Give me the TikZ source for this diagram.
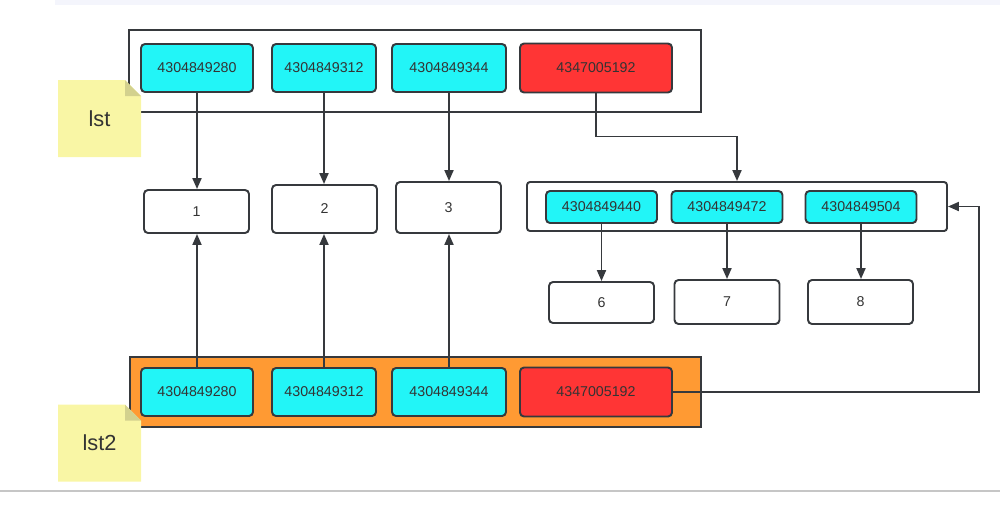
\documentclass[tikz,border=0pt]{standalone}
\usepackage{fontspec}
\setsansfont{Liberation Sans}
\usetikzlibrary{arrows.meta,fit}

\definecolor{edge}{HTML}{36393D}
\definecolor{txt}{HTML}{333333}
\definecolor{cellcyan}{HTML}{22F5F7}
\definecolor{cellred}{HTML}{FF3535}
\definecolor{boxorange}{HTML}{FF9A33}
\definecolor{notey}{HTML}{F9F6A5}
\definecolor{fold}{HTML}{D3D18E}
\definecolor{topband}{HTML}{F4F5FC}

\def\ux{0.02cm}

\begin{document}
\begin{tikzpicture}[x=\ux,y=-\ux, font=\sffamily, line width=1.1pt]
		\tikzset{
			cell/.style={draw=edge, fill=#1, rounded corners=0.8mm, inner sep=0pt, text=txt,
				font=\sffamily\fontsize{8.1}{10}\selectfont},
			ptr/.style={cell=cellcyan, minimum height=48*\ux},
			ptrred/.style={cell=cellred, minimum height=49*\ux, minimum width=152*\ux},
			val/.style={cell=white, minimum width=105*\ux},
			frame/.style={draw=edge, inner sep=0pt, fit={#1}},
			note/.style={minimum width=83*\ux, minimum height=77*\ux, text=txt,
				font=\sffamily\fontsize{12.4}{14}\selectfont,
				path picture={
					\fill[notey] (path picture bounding box.south west) |- ([xshift=-16*\ux]path picture bounding box.north east)
						-- ([yshift=-16*\ux]path picture bounding box.north east) -- (path picture bounding box.south east) -- cycle;
					\fill[fold] ([xshift=-16*\ux]path picture bounding box.north east) -- ++(0,16) -- ++(16,0) -- cycle;
				}},
			arr/.style={draw=edge, -{Triangle[length=2.2mm,width=1.8mm]}},
		}

		\useasboundingbox (0,0) rectangle (1000,505);
		\fill[topband] (55,0) rectangle (1000,5);
		\draw[gray!45, line width=0.6pt] (0,491) -- (1000,491);

		% list frames
		\node[frame={(129,30) (701,112)}] (lstbox) {};
		\node[frame={(130,357) (701,427)}, fill=boxorange] (lst2box) {};
		\node[frame={(527,182) (947,231)}, rounded corners=0.6mm] (subbox) {};

		\node[note] (lst) at (99.5,118.5) {lst};
		\node[note] (lst2) at (99.5,443) {lst2};

		% pointer cells
		\foreach \n/\cx/\w/\val in {1/197/112/4304849280, 2/324/104/4304849312, 3/449/114/4304849344}{
			\node[ptr, minimum width=\w*\ux] (t\n) at (\cx,68) {\val};
			\node[ptr, minimum width=\w*\ux] (b\n) at (\cx,392) {\val};
		}
		\node[ptrred] (tr) at (596,68) {4347005192};
		\node[ptrred] (br) at (596,392) {4347005192};

		\foreach \n/\cx/\val in {1/601.5/4304849440, 2/727/4304849472, 3/861/4304849504}{
			\node[ptr, minimum width=111*\ux, minimum height=32*\ux] (s\n) at (\cx,207) {\val};
		}

		% value cells
		\node[val, minimum height=43*\ux] (v1) at (196.5,211.5) {1};
		\node[val, minimum height=48*\ux] (v2) at (324.5,209) {2};
		\node[val, minimum height=51*\ux] (v3) at (448.5,207.5) {3};
		\node[val, minimum height=41*\ux] (v6) at (601.5,302.5) {6};
		\node[val, minimum height=44*\ux] (v7) at (727,302) {7};
		\node[val, minimum height=44*\ux] (v8) at (860.5,302) {8};

		\foreach \n in {1,2,3}{
			\draw[arr] (t\n.south) -- (t\n.south |- v\n.north);
			\draw[arr] (b\n.north) -- (b\n.north |- v\n.south);
		}
		\foreach \n/\m in {1/6,2/7,3/8}{
			\draw[arr] (s\n.south) -- (s\n.south |- v\m.north);
		}

		\draw[arr] (tr.south) -- ++(0,43) -| (subbox.north);
		\coordinate (loopx) at (979,0);
		\draw[arr] (br.east) -- (br.east -| loopx) |- (subbox.east);

\end{tikzpicture}
\end{document}
